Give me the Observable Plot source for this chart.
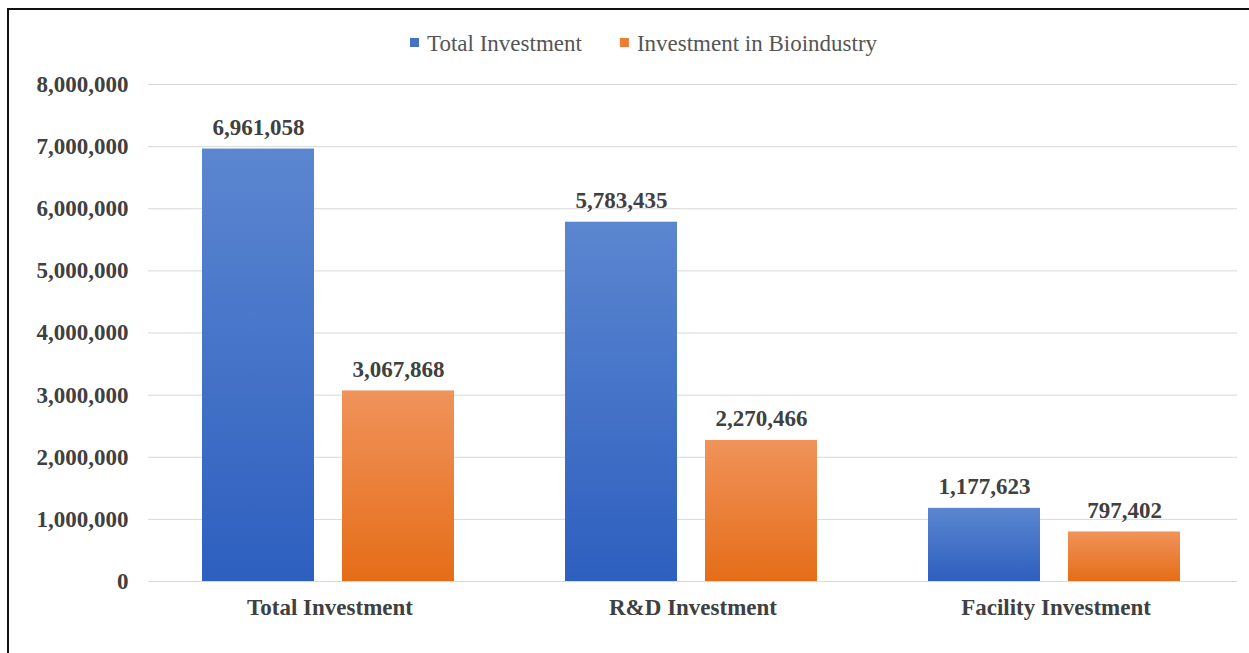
<!DOCTYPE html>
<html><head><meta charset="utf-8">
<script src="https://cdn.jsdelivr.net/npm/d3@7"></script>
<script src="https://cdn.jsdelivr.net/npm/@observablehq/plot@0.6"></script>
<style>
html,body{margin:0;padding:0;background:#fff;}
#wrap{position:relative;width:1249px;height:653px;overflow:hidden;}
#frame{position:absolute;left:7px;top:8px;width:1400px;height:800px;border-top:2px solid #111;border-left:2px solid #111;box-sizing:border-box;}
#legend{position:absolute;top:0;left:0;}
#chart{position:absolute;top:70px;left:0;}
</style>
</head><body>
<div id="wrap">
  <div id="frame"></div>
  <svg id="legend" width="1249" height="70"></svg>
  <div id="chart"></div>
</div>
<script>
const categories = ["Total Investment", "R&D Investment", "Facility Investment"];
const series = ["Total Investment", "Investment in Bioindustry"];
const totalValues = [6961058, 5783435, 1177623];
const bioValues = [3067868, 2270466, 797402];
const yTicks = [0, 1000000, 2000000, 3000000, 4000000, 5000000, 6000000, 7000000, 8000000];
const legendColors = ["#4472C4", "#ED7D31"];

const data = categories.flatMap((c, i) => [
  {category: c, series: series[0], value: totalValues[i]},
  {category: c, series: series[1], value: bioValues[i]}
]);

const fmt = d3.format(",");
const textColor = "#404040";
const serif = "'Liberation Serif','Times New Roman',Times,serif";

const chart = Plot.plot({
  width: 1249,
  height: 583,
  marginTop: 14,
  marginBottom: 72,
  marginLeft: 147,
  marginRight: 12,
  style: {fontFamily: serif, background: "transparent", overflow: "visible"},
  fx: {domain: categories, padding: 0, label: null},
  x: {domain: series, paddingInner: 0.2, paddingOuter: 0.396, axis: null},
  y: {domain: [0, 8000000], label: null},
  color: {domain: series, range: ["url(#gBlue)", "url(#gOrange)"]},
  marks: [
    Plot.gridY(yTicks, {stroke: "#d9d9d9", strokeOpacity: 1}),
    Plot.axisY(yTicks, {tickSize: 0, tickPadding: 20, tickFormat: fmt, fontWeight: "bold", fontSize: 23, fill: textColor, label: null}),
    Plot.axisFx({anchor: "bottom", tickSize: 0, tickPadding: 17, fontWeight: "bold", fontSize: 23, fill: textColor, label: null, style: {letterSpacing: "0.4px"}}),
    Plot.barY(data, {fx: "category", x: "series", y: "value", fill: "series", dx: -2}),
    Plot.text(data, {fx: "category", x: "series", y: "value", text: d => fmt(d.value), dx: -2, dy: -14, lineAnchor: "bottom", fontWeight: "bold", fontSize: 23, fill: textColor})
  ]
});

const defs = d3.select(chart).insert("defs", ":first-child");
function grad(id, top, bottom) {
  const g = defs.append("linearGradient").attr("id", id).attr("x1", 0).attr("y1", 0).attr("x2", 0).attr("y2", 1);
  g.append("stop").attr("offset", "0%").attr("stop-color", top);
  g.append("stop").attr("offset", "100%").attr("stop-color", bottom);
}
grad("gBlue", "#5B86D0", "#2D5FBF");
grad("gOrange", "#F0935A", "#E56D18");

document.getElementById("chart").appendChild(chart);

// legend drawn as SVG text
const legend = d3.select("#legend");
let lx = 410;
series.forEach((s, i) => {
  legend.append("rect").attr("x", lx).attr("y", 38).attr("width", 9).attr("height", 9).attr("fill", legendColors[i]);
  const t = legend.append("text").attr("x", lx + 17).attr("y", 43).attr("dy", "0.35em")
    .attr("font-family", serif).attr("font-size", 23).attr("fill", "#555").text(s);
  lx += 17 + t.node().getComputedTextLength() + 38;
});
</script>
</body></html>
